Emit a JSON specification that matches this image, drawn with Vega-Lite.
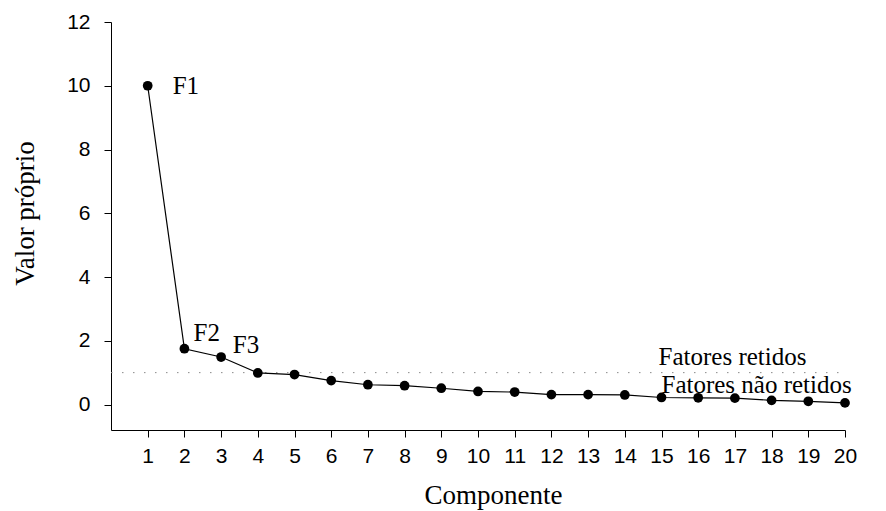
{
  "$schema": "https://vega.github.io/schema/vega-lite/v6.json",
  "width": 734,
  "height": 408,
  "autosize": {"type": "none"},
  "padding": {"left": 111, "top": 22, "right": 41, "bottom": 81},
  "background": "white",
  "config": {
    "view": {"stroke": null},
    "axis": {
      "grid": false,
      "domainColor": "black",
      "tickColor": "black",
      "tickSize": 7,
      "labelColor": "black",
      "titleColor": "black",
      "labelFont": "Liberation Sans",
      "labelFontSize": 21,
      "titleFont": "Liberation Serif",
      "titleFontWeight": "normal",
      "titleFontSize": 27
    }
  },
  "datasets": {
    "eig": [
      {"componente": 1, "valor": 10.0},
      {"componente": 2, "valor": 1.75},
      {"componente": 3, "valor": 1.49},
      {"componente": 4, "valor": 0.99},
      {"componente": 5, "valor": 0.94},
      {"componente": 6, "valor": 0.75},
      {"componente": 7, "valor": 0.62},
      {"componente": 8, "valor": 0.59},
      {"componente": 9, "valor": 0.51},
      {"componente": 10, "valor": 0.41},
      {"componente": 11, "valor": 0.39},
      {"componente": 12, "valor": 0.31},
      {"componente": 13, "valor": 0.31},
      {"componente": 14, "valor": 0.30},
      {"componente": 15, "valor": 0.22},
      {"componente": 16, "valor": 0.21},
      {"componente": 17, "valor": 0.20},
      {"componente": 18, "valor": 0.13},
      {"componente": 19, "valor": 0.10},
      {"componente": 20, "valor": 0.05}
    ],
    "labels": [
      {"texto": "F1", "x": 1.68, "y": 10.0},
      {"texto": "F2", "x": 2.25, "y": 2.25},
      {"texto": "F3", "x": 3.32, "y": 1.87},
      {"texto": "Fatores retidos", "x": 14.92, "y": 1.5},
      {"texto": "Fatores não retidos", "x": 15.0, "y": 0.62}
    ],
    "corte": [{"x": 0, "x2": 20, "y": 1}]
  },
  "layer": [
    {
      "data": {"name": "corte"},
      "mark": {"type": "rule", "color": "#8a8a8a", "strokeWidth": 1, "strokeDash": [1.5, 9.5]},
      "encoding": {
        "x": {"field": "x", "type": "quantitative", "scale": {"domain": [0, 20]}},
        "x2": {"field": "x2"},
        "y": {"field": "y", "type": "quantitative", "scale": {"domain": [-0.8, 12]}}
      }
    },
    {
      "data": {"name": "eig"},
      "mark": {"type": "line", "color": "black", "strokeWidth": 1.2},
      "encoding": {
        "x": {
          "field": "componente", "type": "quantitative",
          "scale": {"domain": [0, 20], "nice": false, "zero": false},
          "axis": {
            "title": "Componente",
            "values": [1,2,3,4,5,6,7,8,9,10,11,12,13,14,15,16,17,18,19,20],
            "tickCount": 40,
            "format": "d",
            "labelOverlap": false,
            "labelFlush": false,
            "labelBound": false,
            "labelPadding": 8,
            "titleX": 382,
            "titleY": 65,
            "titleAnchor": null,
            "titleBaseline": "middle",
            "titleAlign": "center"
          }
        },
        "y": {
          "field": "valor", "type": "quantitative",
          "scale": {"domain": [-0.8, 12], "nice": false, "zero": false},
          "axis": {
            "title": "Valor próprio",
            "values": [0, 2, 4, 6, 8, 10, 12],
            "format": "d",
            "labelOverlap": false,
            "labelFlush": false,
            "labelPadding": 14,
            "titleX": -86,
            "titleY": 191,
            "titleAngle": -90,
            "titleAlign": "center",
            "titleBaseline": "middle"
          }
        }
      }
    },
    {
      "data": {"name": "eig"},
      "mark": {"type": "point", "filled": true, "color": "black", "size": 95, "opacity": 1},
      "encoding": {
        "x": {"field": "componente", "type": "quantitative"},
        "y": {"field": "valor", "type": "quantitative"}
      }
    },
    {
      "data": {"name": "labels"},
      "mark": {"type": "text", "font": "Liberation Serif", "fontSize": 25, "align": "left", "baseline": "middle", "color": "black", "clip": false},
      "encoding": {
        "x": {"field": "x", "type": "quantitative"},
        "y": {"field": "y", "type": "quantitative"},
        "text": {"field": "texto"}
      }
    }
  ]
}
